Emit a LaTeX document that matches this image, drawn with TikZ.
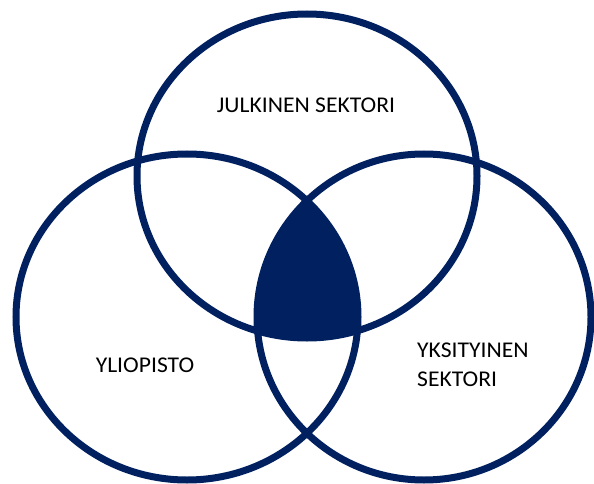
\documentclass[tikz,border=0pt]{standalone}
\usepackage{fontspec}
\setmainfont{Carlito}[FakeStretch=1.05]
\definecolor{navy}{HTML}{002060}
\begin{document}
\begin{tikzpicture}[x=1pt,y=-1pt,
  ring/.style={draw=navy,line width=7pt},
  lbl/.style={inner sep=0pt,font=\fontsize{22.5}{29.5}\selectfont,text=black}]
\useasboundingbox (0,0) rectangle (594,484);
\coordinate (ct) at (307,176);
\coordinate (cl) at (187,317);
\coordinate (cr) at (424,317);
\begin{scope}
  \clip (ct) ellipse [x radius=170, y radius=162];
  \clip (cl) ellipse [x radius=171, y radius=163];
  \fill[navy] (cr) ellipse [x radius=167, y radius=163];
\end{scope}
\draw[ring] (ct) ellipse [x radius=170, y radius=162];
\draw[ring] (cl) ellipse [x radius=171, y radius=163];
\draw[ring] (cr) ellipse [x radius=167, y radius=163];
\node[lbl] (julk) at (306,105) {JULKINEN SEKTORI};
\node[lbl] (yli) at (145,365) {YLIOPISTO};
\node[lbl,align=left,anchor=west] (yks) at (417,365) {YKSITYINEN\\SEKTORI};
\end{tikzpicture}
\end{document}
